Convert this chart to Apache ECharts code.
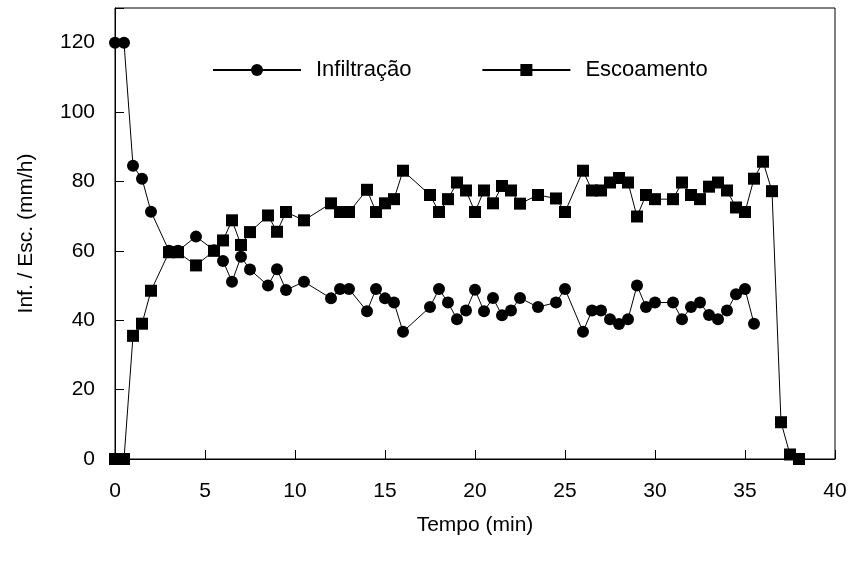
<!DOCTYPE html>
<html>
<head>
<meta charset="utf-8">
<script src="https://cdn.jsdelivr.net/npm/echarts@6/dist/echarts.min.js"></script>
<style>
  html, body { margin: 0; padding: 0; background: #fff; }
  #main { width: 851px; height: 561px; }
</style>
</head>
<body>
<div id="main"></div>
<script>
// tempo (min) for each reading
const tempo = [0, 0.5, 1, 1.5, 2, 3, 3.5, 4.5, 5.5, 6, 6.5, 7, 7.5, 8.5, 9, 9.5, 10.5,
    12, 12.5, 13, 14, 14.5, 15, 15.5, 16, 17.5, 18, 18.5, 19, 19.5, 20, 20.5, 21, 21.5,
    22, 22.5, 23.5, 24.5, 25, 26, 26.5, 27, 27.5, 28, 28.5, 29, 29.5, 30, 31, 31.5, 32,
    32.5, 33, 33.5, 34, 34.5, 35, 35.5];
const tempoFinal = [36, 36.5, 37, 37.5, 38];

const infiltracao = [120, 120, 84.5, 80.8, 71.3, 60, 60, 64.1, 60.2, 57.1, 51.1, 58.3, 54.6,
    50, 54.7, 48.7, 51.1, 46.3, 49, 49, 42.6, 49, 46.3, 45.1, 36.7, 43.8, 49, 45.1, 40.3,
    42.8, 48.8, 42.6, 46.4, 41.4, 42.8, 46.4, 43.8, 45.1, 49, 36.7, 42.8, 42.8, 40.3, 38.9,
    40.3, 50, 43.8, 45.1, 45.1, 40.3, 43.8, 45.1, 41.5, 40.3, 42.8, 47.5, 49, 39];

const escoamento = [0, 0, 35.5, 39, 48.5, 59.6, 59.6, 55.8, 60, 63, 68.8, 61.7, 65.4, 70.2,
    65.5, 71.2, 68.8, 73.7, 71.2, 71.2, 77.6, 71.2, 73.7, 74.9, 83.1, 76.1, 71.2, 74.9, 79.7,
    77.4, 71.2, 77.4, 73.7, 78.7, 77.4, 73.6, 76.1, 75.1, 71.2, 83.1, 77.4, 77.4, 79.7, 81,
    79.7, 69.9, 76.1, 74.9, 74.9, 79.7, 76.1, 74.9, 78.5, 79.7, 77.4, 72.5, 71.2, 80.8];
const escoamentoFinal = [85.7, 77.2, 10.6, 1.3, 0];

const seriesNames = ['Infiltração', 'Escoamento'];

const infData = tempo.map((t, i) => [t, infiltracao[i]]);
const escData = tempo.concat(tempoFinal).map((t, i) => [t, escoamento.concat(escoamentoFinal)[i]]);

const font = 'Liberation Sans, Arial, sans-serif';

const chart = echarts.init(document.getElementById('main'));
const option = {
    animation: false,
    backgroundColor: '#fff',
    grid: {
        left: 115, right: 16, top: 8, bottom: 102,
        show: true, borderColor: '#000', borderWidth: 1
    },
    legend: {
        left: 207,
        top: 54,
        itemWidth: 88,
        itemHeight: 15,
        itemGap: 70,
        textStyle: { fontFamily: font, fontSize: 22, color: '#000', padding: [0, 0, 0, 10] },
        data: seriesNames
    },
    xAxis: {
        type: 'value',
        min: 0, max: 40, interval: 5,
        name: 'Tempo (min)',
        nameLocation: 'middle',
        nameGap: 56,
        nameTextStyle: { fontFamily: font, fontSize: 21, color: '#000' },
        axisLine: { lineStyle: { color: '#000', width: 1 } },
        axisTick: { inside: true, length: 9, lineStyle: { color: '#000' } },
        axisLabel: { fontFamily: font, fontSize: 21, color: '#000', margin: 22 },
        splitLine: { show: false }
    },
    yAxis: {
        type: 'value',
        min: 0, max: 130, interval: 20,
        name: 'Inf. / Esc. (mm/h)',
        nameLocation: 'middle',
        nameGap: 78,
        nameTextStyle: { fontFamily: font, fontSize: 21, color: '#000' },
        axisLine: { show: true, lineStyle: { color: '#000', width: 1 } },
        axisTick: { inside: true, length: 9, lineStyle: { color: '#000' } },
        axisLabel: {
            fontFamily: font, fontSize: 21, color: '#000', margin: 20,
            formatter: v => (v > 120 ? '' : v)
        },
        splitLine: { show: false }
    },
    series: [
        {
            name: seriesNames[0],
            type: 'line',
            data: infData,
            symbol: 'circle',
            symbolSize: 12,
            itemStyle: { color: '#000' },
            lineStyle: { color: '#000', width: 1 }
        },
        {
            name: seriesNames[1],
            type: 'line',
            data: escData,
            symbol: 'rect',
            symbolSize: 12,
            itemStyle: { color: '#000' },
            lineStyle: { color: '#000', width: 1 }
        }
    ]
};
chart.setOption(option);
</script>
</body>
</html>
